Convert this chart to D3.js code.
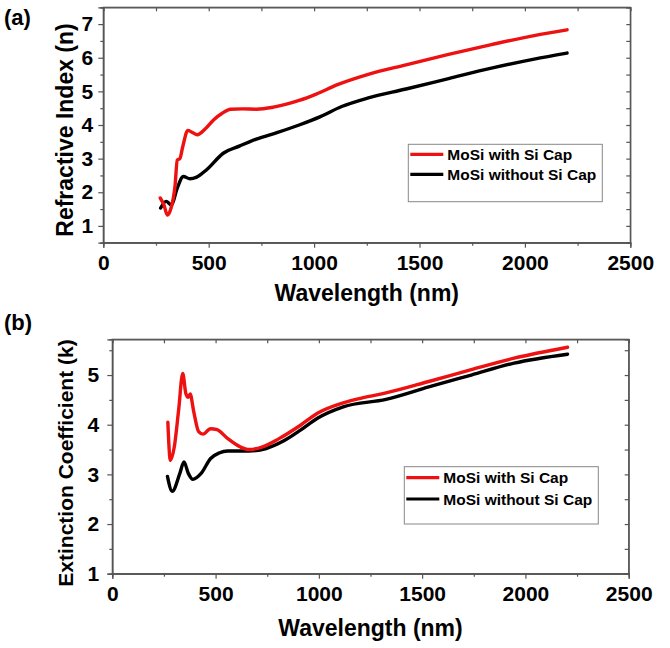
<!DOCTYPE html>
<html><head><meta charset="utf-8">
<script src="https://cdn.jsdelivr.net/npm/d3@7"></script>
<style>
html,body{margin:0;padding:0;background:#fff;}
text{font-family:"Liberation Sans",Arial,sans-serif;font-weight:bold;fill:#000;}
</style></head>
<body><svg id="c" width="670" height="648"></svg>
<script>
// ---- data ----
const seriesNames = ["MoSi with Si Cap", "MoSi without Si Cap"];
const seriesColors = ["#ee1111", "#000000"];
const xTicks = [0, 500, 1000, 1500, 2000, 2500];

// (a) refractive index n
const nCapWl  = [270, 288, 304, 320, 340, 351, 363, 377, 401, 422, 446, 483, 523, 564, 604, 660, 726, 807, 929, 1010, 1111, 1253, 1436, 1638, 1841, 2044, 2200];
const nCapVal = [1.83, 1.62, 1.32, 1.5, 2.17, 2.96, 3.0, 3.36, 3.84, 3.78, 3.71, 3.88, 4.15, 4.35, 4.47, 4.48, 4.47, 4.53, 4.73, 4.92, 5.2, 5.5, 5.79, 6.1, 6.39, 6.66, 6.83];
const nBareWl  = [272, 298, 324, 348, 380, 411, 443, 490, 569, 648, 726, 827, 929, 1030, 1131, 1253, 1436, 1638, 1841, 2044, 2200];
const nBareVal = [1.53, 1.73, 1.62, 2.07, 2.47, 2.4, 2.45, 2.67, 3.16, 3.38, 3.58, 3.78, 4.0, 4.25, 4.55, 4.8, 5.07, 5.38, 5.69, 5.96, 6.14];

// (b) extinction coefficient k
const kCapWl  = [269, 281, 300, 321, 341, 356, 368, 377, 393, 418, 439, 476, 507, 559, 621, 662, 724, 807, 911, 993, 1118, 1221, 1325, 1532, 1738, 1945, 2204];
const kCapVal = [4.05, 3.28, 3.55, 4.29, 5.03, 4.63, 4.55, 4.62, 4.29, 3.86, 3.81, 3.92, 3.9, 3.72, 3.55, 3.5, 3.55, 3.72, 3.99, 4.23, 4.44, 4.55, 4.64, 4.87, 5.11, 5.34, 5.56];
const kBareWl  = [267, 290, 327, 347, 368, 390, 430, 476, 517, 559, 662, 745, 828, 911, 993, 1118, 1325, 1532, 1738, 1945, 2204];
const kBareVal = [2.96, 2.66, 3.02, 3.25, 3.02, 2.9, 3.02, 3.32, 3.43, 3.47, 3.47, 3.52, 3.67, 3.89, 4.13, 4.36, 4.51, 4.76, 5.0, 5.24, 5.42];

const nTicks = [1, 2, 3, 4, 5, 6, 7];
const kTicks = [1, 2, 3, 4, 5];

const svg = d3.select("#c");

function panel(cfg) {
  const x = d3.scaleLinear().domain([0, 2500]).range([cfg.left, cfg.right]);
  const y = d3.scaleLinear().domain(cfg.yDomain).range([cfg.bottom, cfg.top]);
  const g = svg.append("g");
  const axisColor = "#555";
  const xMinor = d3.range(0, 2501, 250);
  const yMinor = d3.range(cfg.yDomain[0], cfg.yDomain[1] + 0.001, 0.5);

  g.append("rect").attr("x", cfg.left).attr("y", cfg.top)
    .attr("width", cfg.right - cfg.left).attr("height", cfg.bottom - cfg.top)
    .attr("fill", "none").attr("stroke", axisColor).attr("stroke-width", 1.2);

  const xa = g.append("g").attr("transform", `translate(0,${cfg.bottom})`)
    .call(d3.axisBottom(x).tickValues(xTicks).tickSize(5).tickPadding(7).tickFormat(d3.format("d")));
  xa.selectAll(".tick text").attr("font-size", 21).attr("fill", "#000");
  g.append("g").attr("transform", `translate(0,${cfg.bottom})`)
    .call(d3.axisBottom(x).tickValues(xMinor.filter(v => v % 500)).tickSize(3).tickFormat(""));
  g.append("g").attr("transform", `translate(0,${cfg.top})`)
    .call(d3.axisBottom(x).tickValues(xMinor).tickSize(4).tickFormat(""));
  const ya = g.append("g").attr("transform", `translate(${cfg.left},0)`)
    .call(d3.axisLeft(y).tickValues(cfg.yTicks).tickSize(5).tickPadding(cfg.yPad).tickFormat(d3.format("d")));
  ya.selectAll(".tick text").attr("font-size", 21).attr("fill", "#000");
  g.append("g").attr("transform", `translate(${cfg.left},0)`)
    .call(d3.axisLeft(y).tickValues(yMinor.filter(v => v % 1)).tickSize(3).tickFormat(""));
  g.append("g").attr("transform", `translate(${cfg.right},0)`)
    .call(d3.axisLeft(y).tickValues(yMinor).tickSize(4).tickFormat(""));
  g.selectAll(".domain").attr("stroke", axisColor).attr("stroke-width", 1.2);
  g.selectAll(".tick line").attr("stroke", axisColor).attr("stroke-width", 1.2);

  const line = d3.line().x(d => x(d[0])).y(d => y(d[1])).curve(d3.curveMonotoneX);
  cfg.series.slice().reverse().forEach((s, i) => {
    const idx = cfg.series.length - 1 - i;
    g.append("path").datum(d3.zip(s.wl, s.val)).attr("d", line)
      .attr("fill", "none").attr("stroke", seriesColors[idx])
      .attr("stroke-width", 3.4).attr("stroke-linejoin", "round").attr("stroke-linecap", "round");
  });

  g.append("text").attr("x", (cfg.left + cfg.right) / 2).attr("y", cfg.xTitleY)
    .attr("text-anchor", "middle").attr("font-size", 23).text("Wavelength (nm)");
  g.append("text").attr("transform", `translate(${cfg.yTitleX},${cfg.yTitleC}) rotate(-90)`)
    .attr("text-anchor", "middle").attr("font-size", cfg.yTitleSize).text(cfg.yTitle);
  g.append("text").attr("x", 4).attr("y", cfg.tagY).attr("font-size", 22).text(cfg.tag);

  const L = cfg.legend;
  g.append("rect").attr("x", L.x).attr("y", L.y).attr("width", L.w).attr("height", L.h)
    .attr("fill", "#fff").attr("stroke", "#888").attr("stroke-width", 1);
  seriesNames.forEach((nm, i) => {
    const ly = L.y + L.firstY + i * L.dy;
    g.append("line").attr("x1", L.x + 2).attr("x2", L.x + 35).attr("y1", ly).attr("y2", ly)
      .attr("stroke", seriesColors[i]).attr("stroke-width", 3.2);
    g.append("text").attr("x", L.x + 39).attr("y", ly + 5.5).attr("font-size", 15.5).text(nm);
  });
}

panel({
  left: 103.3, right: 630.3, top: 7.3, bottom: 242.7, yDomain: [0.5, 7.5], yTicks: nTicks, yPad: 5,
  series: [{wl: nCapWl, val: nCapVal}, {wl: nBareWl, val: nBareVal}],
  xTitleY: 301, yTitleX: 73, yTitleC: 130, yTitle: "Refractive Index (n)", yTitleSize: 23,
  tag: "(a)", tagY: 25,
  legend: {x: 408.3, y: 144.3, w: 194, h: 57.4, firstY: 10, dy: 20}
});
panel({
  left: 112.3, right: 628.7, top: 339.3, bottom: 573.7, yDomain: [1, 5.72], yTicks: kTicks, yPad: 8,
  series: [{wl: kCapWl, val: kCapVal}, {wl: kBareWl, val: kBareVal}],
  xTitleY: 636, yTitleX: 73, yTitleC: 463, yTitle: "Extinction Coefficient (k)", yTitleSize: 21,
  tag: "(b)", tagY: 330,
  legend: {x: 404.3, y: 466.7, w: 194, h: 57.3, firstY: 11, dy: 21.3}
});
</script></body></html>
